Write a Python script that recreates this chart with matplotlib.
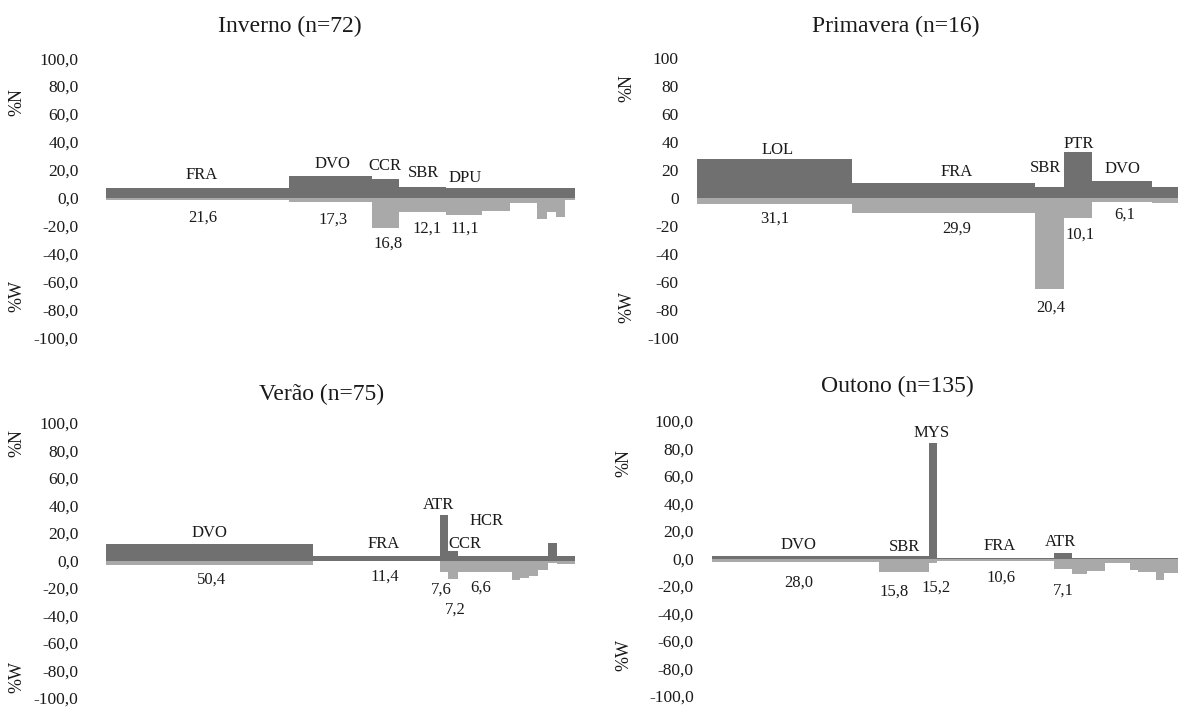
import matplotlib
matplotlib.use("Agg")
import matplotlib.pyplot as plt

plt.rcParams['font.family'] = ['Liberation Serif', 'DejaVu Serif']

DARK = '#707070'
LIGHT = '#a9a9a9'
TEXT = '#1a1a1a'

# ---- Inverno (n=72) ----
inv_prey = ['FRA', 'DVO', 'CCR', 'SBR', 'DPU', '', '', '', '', '', '']
inv_width = [39.1, 17.8, 5.7, 10.0, 7.7, 6.0, 5.8, 2.0, 2.0, 1.9, 2.1]
inv_n = [7.2, 15.6, 13.2, 7.9, 7.2, 7.2, 7.2, 7.2, 7.2, 7.2, 7.2]
inv_w = [1.6, 2.9, 21.9, 10.0, 12.4, 9.5, 4.0, 15.3, 10.5, 13.6, 1.6]
inv_iri = [21.6, 17.3, 16.8, 12.1, 11.1, None, None, None, None, None, None]

# ---- Primavera (n=16) ----
pri_prey = ['LOL', 'FRA', 'SBR', 'PTR', 'DVO', '']
pri_width = [32.2, 38.1, 6.0, 6.0, 12.3, 5.5]
pri_n = [28.0, 11.0, 7.7, 32.8, 12.4, 7.7]
pri_w = [4.3, 10.5, 65.2, 14.1, 2.6, 3.3]
pri_iri = [31.1, 29.9, 20.4, 10.1, 6.1, None]

# ---- Verão (n=75) ----
ver_prey = ['DVO', 'FRA', 'ATR', 'CCR', 'HCR', '', '', '', '', '', '']
ver_width = [44.1, 27.1, 1.8, 2.0, 11.5, 1.8, 2.0, 1.9, 2.1, 1.8, 3.9]
ver_n = [12.0, 3.6, 33.1, 6.7, 3.6, 3.6, 3.6, 3.6, 3.6, 12.7, 3.6]
ver_w = [3.6, 0.4, 8.4, 13.2, 8.4, 14.4, 12.9, 11.3, 7.0, 1.5, 2.9]
ver_iri = [50.4, 11.4, 7.6, 7.2, 6.6, None, None, None, None, None, None]

# ---- Outono (n=135) ----
out_prey = ['DVO', 'SBR', 'MYS', 'FRA', 'ATR', '', '', '', '', '', '', '']
out_width = [35.9, 10.8, 1.6, 25.2, 3.7, 3.3, 3.8, 5.4, 1.8, 3.8, 1.8, 2.9]
out_n = [1.7, 1.5, 83.7, 0.5, 4.1, 0.5, 0.3, 0.3, 0.3, 0.3, 0.3, 0.3]
out_w = [2.4, 9.9, 3.1, 1.9, 7.9, 11.5, 9.1, 3.6, 8.4, 9.9, 15.6, 10.3]
out_iri = [28.0, 15.8, 15.2, 10.6, 7.1, None, None, None, None, None, None, None]

y_ticks = list(range(-100, 101, 20))

W_PX, H_PX = 1178, 711
fig = plt.figure(figsize=(W_PX / 100, H_PX / 100), dpi=100)
fig.patch.set_facecolor('white')


def px_rect(left, right, top, bottom):
    return [left / W_PX, 1 - bottom / H_PX, (right - left) / W_PX, (bottom - top) / H_PX]


def fmt(v, decimals):
    return f"{v:.{decimals}f}".replace('.', ',')


def panel(rect, title, title_xy, prey, width, n, w, iri, tick_dec, tick_pad,
          name_adj, val_adj, n_xy, w_xy):
    ax = fig.add_axes(px_rect(*rect))
    lefts = []
    acc = 0.0
    for wd in width:
        lefts.append(acc)
        acc += wd
    ax.bar(lefts, [-v for v in w], width=width, align='edge', color=LIGHT,
           linewidth=0, zorder=2)
    ax.bar(lefts, n, width=width, align='edge', color=DARK, linewidth=0, zorder=3)
    ax.set_xlim(0, acc)
    ax.set_ylim(-100, 100)
    ax.set_yticks(y_ticks)
    ax.set_yticklabels([fmt(t, tick_dec) for t in y_ticks], fontsize=12.5,
                       color=TEXT)
    ax.tick_params(axis='y', length=0, pad=tick_pad)
    ax.set_xticks([])
    for s in ax.spines.values():
        s.set_visible(False)
    ax.patch.set_alpha(0)

    px_to_pt = 72 / 100
    for i, name in enumerate(prey):
        if not name:
            continue
        cx = lefts[i] + width[i] / 2
        dx, gap = name_adj.get(i, (0, 14))
        ax.annotate(name, (cx, n[i]), xytext=(dx * px_to_pt, (gap - 5.5) * px_to_pt),
                    textcoords='offset points', ha='center', va='baseline',
                    fontsize=12, color=TEXT, zorder=5)
    for i, v in enumerate(iri):
        if v is None:
            continue
        cx = lefts[i] + width[i] / 2
        dx, gap = val_adj.get(i, (0, 14))
        ax.annotate(fmt(v, 1), (cx, -w[i]),
                    xytext=(dx * px_to_pt, -(gap + 5.5) * px_to_pt),
                    textcoords='offset points', ha='center', va='baseline',
                    fontsize=12, color=TEXT, zorder=5)

    fig.text(title_xy[0] / W_PX, 1 - title_xy[1] / H_PX, title, ha='center',
             va='center', fontsize=17, color=TEXT)
    fig.text(n_xy[0] / W_PX, 1 - n_xy[1] / H_PX, '%N', rotation=90, ha='center',
             va='center', fontsize=13, color=TEXT)
    fig.text(w_xy[0] / W_PX, 1 - w_xy[1] / H_PX, '%W', rotation=90, ha='center',
             va='center', fontsize=13, color=TEXT)
    return ax


panel((105.7, 575, 58.2, 337.2), 'Inverno (n=72)', (290, 26),
      inv_prey, inv_width, inv_n, inv_w, inv_iri, 1, 19.5,
      {0: (4, 14), 1: (2, 13), 2: (-1, 15), 3: (1, 15), 4: (1, 11)},
      {0: (5, 16), 1: (2, 16), 2: (2, 13.5), 3: (4, 15), 4: (1, 12)},
      (17, 102), (17, 296))

panel((696.7, 1178, 58.5, 337.5), 'Primavera (n=16)', (896, 26),
      pri_prey, pri_width, pri_n, pri_w, pri_iri, 0, 13,
      {0: (3, 10), 1: (14, 12.5), 2: (-4, 20.5), 3: (1, 10), 4: (0, 13.5)},
      {0: (1, 13), 1: (14, 14.5), 2: (2, 17.5), 3: (2, 15), 4: (3, 11.5)},
      (627, 88), (627, 307))

panel((105.7, 575, 423, 698), 'Verão (n=75)', (322, 394),
      ver_prey, ver_width, ver_n, ver_w, ver_iri, 1, 19.5,
      {0: (0, 12.5), 1: (7, 13), 2: (-6, 11.5), 3: (12, 9), 4: (2, 36)},
      {0: (2, 13), 1: (9, 14.5), 2: (-3, 16.5), 3: (2, 29), 4: (-4, 14.5)},
      (17, 443), (17, 677))

panel((711.7, 1178, 421, 696), 'Outono (n=135)', (897, 386),
      out_prey, out_width, out_n, out_w, out_iri, 1, 13,
      {0: (3, 12.5), 1: (0, 11), 2: (-2, 12), 3: (4, 13), 4: (-3, 12.5)},
      {0: (3, 19), 1: (-10, 18), 2: (3, 23), 3: (5, 15), 4: (0, 20)},
      (624, 463), (624, 655))

fig.savefig('out.png', dpi=100, facecolor='white')
